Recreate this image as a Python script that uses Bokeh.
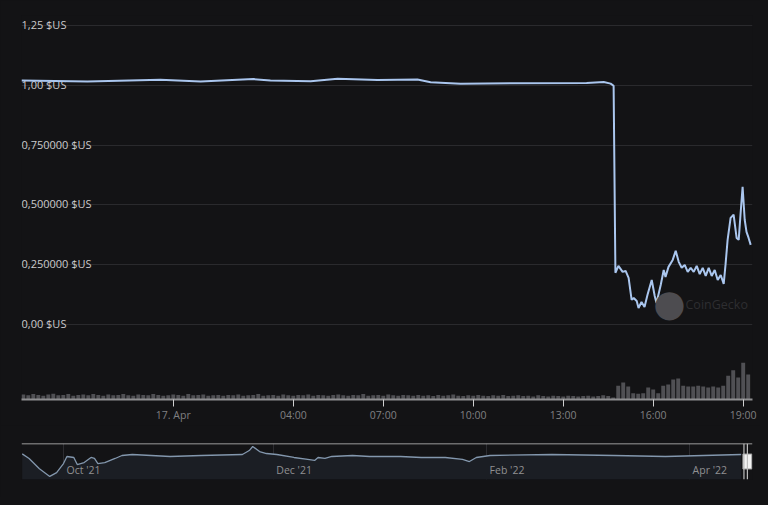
import numpy as np
import pandas as pd
from bokeh.plotting import figure
from bokeh.layouts import column
from bokeh.models import Range1d, FixedTicker, Span, Label
from bokeh.core.properties import value
from bokeh.embed import file_html
from bokeh.resources import INLINE

BG = "#131315"
FONT = "Open Sans"

# ---------------- data ----------------
# price, hours relative to 17 Apr 00:00
price_hours = [-5.06, -2.86, -0.43, 0.91, 2.67, 3.24, 4.58, 5.48, 6.81, 8.14, 8.58, 9.58,
               13.78, 14.35, 14.58, 14.68,
               14.74, 14.84, 14.98, 15.08, 15.18, 15.28, 15.35, 15.45, 15.51, 15.61,
               15.71, 15.81, 15.95, 16.05, 16.11, 16.25, 16.35, 16.41, 16.51, 16.65,
               16.75, 16.85, 16.95, 17.05, 17.15, 17.25, 17.35, 17.45, 17.55, 17.65,
               17.75, 17.85, 17.95, 18.05, 18.15, 18.25, 18.35, 18.41, 18.48, 18.58,
               18.68, 18.78, 18.85, 18.91, 18.98, 19.05, 19.11, 19.18, 19.25]
price_values = [1.020, 1.016, 1.023, 1.016, 1.026, 1.020, 1.017, 1.027, 1.022, 1.024, 1.013, 1.007,
                1.010, 1.014, 1.007, 0.998,
                0.216, 0.245, 0.220, 0.224, 0.195, 0.103, 0.111, 0.098, 0.069, 0.094,
                0.073, 0.124, 0.186, 0.119, 0.090, 0.165, 0.228, 0.199, 0.241, 0.270,
                0.308, 0.262, 0.237, 0.249, 0.220, 0.237, 0.220, 0.245, 0.211, 0.237,
                0.203, 0.237, 0.203, 0.228, 0.186, 0.207, 0.170, 0.249, 0.354, 0.446,
                0.459, 0.362, 0.354, 0.459, 0.576, 0.438, 0.387, 0.362, 0.333]

# volume, one bar every 10 minutes from 16 Apr 19:00
vol_start_hour = -5.0
vol_step_hours = 1.0 / 6.0
vol_values = [
    1.3, 1.1, 1.4, 1.2, 1.0, 1.3, 1.5, 1.1, 1.2, 1.4, 1.0, 1.2, 1.3, 1.1, 1.4, 1.2, 1.0, 1.3, 1.1, 1.2,
    1.4, 1.1, 1.0, 1.3, 1.2, 1.1, 1.4, 1.2, 1.0, 1.1, 1.3, 1.2, 1.0, 1.4, 1.1, 1.2, 1.3, 1.0, 1.1, 1.2,
    1.0, 1.2, 1.1, 1.3, 1.0, 1.1, 1.2, 1.4, 1.0, 1.1, 1.2, 1.0, 1.3, 1.1, 1.0, 1.2, 1.1, 1.3, 1.0, 1.2,
    1.1, 1.0, 1.2, 1.3, 1.1, 1.0, 1.2, 1.1, 1.4, 1.0, 1.1, 1.2, 1.0, 1.3, 1.1, 1.0, 1.2, 1.1, 1.0, 1.2,
    1.0, 1.1, 0.9, 1.2, 1.0, 1.1, 1.3, 1.0, 0.9, 1.1, 1.0, 1.2, 1.0, 0.9, 1.1, 1.0, 1.2, 0.9, 1.0, 1.1,
    0.9, 1.0, 0.8, 1.1, 0.9, 0.8, 1.0, 0.9, 0.8, 1.0, 0.9, 0.8, 0.9, 1.0, 0.8, 0.9, 1.1, 0.9,
    0.5, 3.6, 4.4, 3.4, 1.6, 1.5, 1.6, 3.1, 2.6, 1.6, 3.6, 3.9, 5.2, 5.5, 3.6, 3.4, 3.4, 3.6, 3.4, 3.1,
    3.4, 3.1, 3.6, 6.2, 7.6, 5.7, 9.6, 6.5]

price_ticks = [0.0, 0.25, 0.5, 0.75, 1.0, 1.25]
price_tick_labels = ["0,00 $US", "0,250000 $US", "0,500000 $US", "0,750000 $US", "1,00 $US", "1,25 $US"]
time_ticks = [0, 4, 7, 10, 13, 16, 19]
time_tick_labels = ["17. Apr", "04:00", "07:00", "10:00", "13:00", "16:00", "19:00"]

nav_dates = ["2021-09-19", "2021-09-21", "2021-09-24", "2021-09-27", "2021-09-29", "2021-10-01",
             "2021-10-02", "2021-10-04", "2021-10-05", "2021-10-07", "2021-10-09", "2021-10-10",
             "2021-10-11", "2021-10-13", "2021-10-16", "2021-10-18", "2021-10-21", "2021-11-01",
             "2021-11-10", "2021-11-22", "2021-11-24", "2021-11-25", "2021-11-27", "2021-11-29",
             "2021-12-02", "2021-12-07", "2021-12-11", "2021-12-13", "2021-12-14", "2021-12-16",
             "2021-12-18", "2021-12-24", "2021-12-29", "2022-01-07", "2022-01-13", "2022-01-20",
             "2022-01-25", "2022-01-27", "2022-01-29", "2022-02-02", "2022-02-20", "2022-03-10",
             "2022-03-25", "2022-04-16"]
nav_values = [1.0015, 0.9973, 0.9880, 0.9810, 0.9845, 0.9927,
              0.9991, 0.9982, 0.9918, 0.9936, 0.9982, 0.9973,
              0.9927, 0.9936, 0.9973, 1.0000, 1.0009, 0.9991,
              1.0000, 1.0009, 1.0045, 1.0082, 1.0036, 1.0018,
              1.0009, 0.9982, 0.9964, 0.9955, 0.9982, 0.9973,
              0.9991, 1.0000, 0.9991, 0.9991, 0.9982, 0.9982,
              0.9964, 0.9945, 0.9982, 1.0000, 1.0009, 1.0000,
              0.9991, 1.0009]
nav_ticks = ["2021-10-01", "2021-12-01", "2022-02-01", "2022-04-01"]
nav_tick_labels = ["Oct '21", "Dec '21", "Feb '22", "Apr '22"]
nav_sel_start = "2022-04-16 19:20"
nav_sel_end = "2022-04-17 19:20"

# ---------------- main chart ----------------
p = figure(width=760, height=425, output_backend="svg", toolbar_location=None,
           x_range=Range1d(-5.06, 19.31), y_range=Range1d(-0.3135, 1.2918),
           y_axis_location=None, x_axis_location="below",
           min_border_left=21, min_border_right=8, min_border_top=15, min_border_bottom=26,
           background_fill_color=BG, border_fill_color=BG, outline_line_color=None)
p.extra_y_ranges = {"vol": Range1d(0, 100)}
p.xgrid.visible = False
p.ygrid.ticker = FixedTicker(ticks=price_ticks)
p.ygrid.grid_line_color = "#2a2a2d"
p.ygrid.grid_line_width = 1

ax = p.xaxis[0]
ax.ticker = FixedTicker(ticks=time_ticks)
ax.major_label_overrides = {t: l for t, l in zip(time_ticks, time_tick_labels)}
ax.axis_line_color = "#8e8e90"
ax.axis_line_width = 2
ax.major_tick_line_color = "#d0d0d0"
ax.major_tick_out = 7
ax.major_tick_in = 0
ax.minor_tick_line_color = None
ax.major_label_text_color = "#808082"
ax.major_label_text_font = FONT
ax.major_label_text_font_size = "10.5px"
ax.major_label_standoff = 1

vol_hours = vol_start_hour + np.arange(len(vol_values)) * vol_step_hours
p.vbar(x=vol_hours, top=vol_values, bottom=0, width=0.13, y_range_name="vol",
       fill_color="#505054", line_color=None)

p.text(x=p.x_range.start, y=price_ticks, text=price_tick_labels,
       text_font=value(FONT), text_font_size="11px", text_color="#cacacc",
       text_baseline="alphabetic", text_align="left", y_offset=-1)

p.add_layout(Label(x=648, y=96, x_units="screen", y_units="screen", text="\u25cf",
                   text_font="DejaVu Sans", text_font_size="37px", text_color="#4d4c50",
                   text_align="center", text_baseline="middle"))
p.add_layout(Label(x=664, y=95, x_units="screen", y_units="screen", text="CoinGecko",
                   text_font=FONT, text_font_size="12.5px", text_color="#2e2e31",
                   text_align="left", text_baseline="middle"))

p.line(price_hours, price_values, line_color="#aac6ee", line_width=2)

# ---------------- navigator ----------------
nav_x = pd.to_datetime(nav_dates)
nav_lo, nav_hi = 0.9782, 1.0109
n = figure(width=760, height=72, output_backend="svg", toolbar_location=None,
           x_range=Range1d(pd.Timestamp("2021-09-18 19:00"), pd.Timestamp("2022-04-19 07:00")),
           y_range=Range1d(nav_lo, nav_hi), x_axis_type="datetime",
           x_axis_location=None, y_axis_location=None,
           min_border_left=21, min_border_right=8, min_border_top=18, min_border_bottom=18,
           background_fill_color=BG, border_fill_color=BG, outline_line_color=None)
n.ygrid.visible = False
nav_tick_ts = pd.to_datetime(nav_ticks)
n.xgrid.ticker = FixedTicker(ticks=[t.value / 1e6 for t in nav_tick_ts])
n.xgrid.grid_line_color = "#2c2c30"

n.varea(x=nav_x, y1=nav_lo, y2=nav_values, fill_color="#1b1e24")
n.line(nav_x, nav_values, line_color="#8397ad", line_width=1.3)
n.text(x=nav_tick_ts, y=nav_lo, text=nav_tick_labels, text_font=value(FONT),
       text_font_size="10.5px", text_color="#909092", text_baseline="bottom",
       x_offset=3, y_offset=-3)

n.add_layout(Span(location=nav_hi, dimension="width", line_color="#c8c8c8", line_width=1.5))
for loc in (nav_sel_start, nav_sel_end):
    n.add_layout(Span(location=pd.Timestamp(loc), dimension="height",
                      line_color="#bdbdbd", line_width=1.2))
n.rect(x=[pd.Timestamp(nav_sel_end)], y=[(nav_lo + nav_hi) / 2], width=9, height=15,
       width_units="screen", height_units="screen", fill_color="#f2f2f2", line_color="#999999")

layout = column(p, n, spacing=0)
html = file_html(layout, INLINE)
html = html.replace("<head>", "<head><style>html,body{background-color:%s;}</style>" % BG, 1)
open("out.html", "w").write(html)
